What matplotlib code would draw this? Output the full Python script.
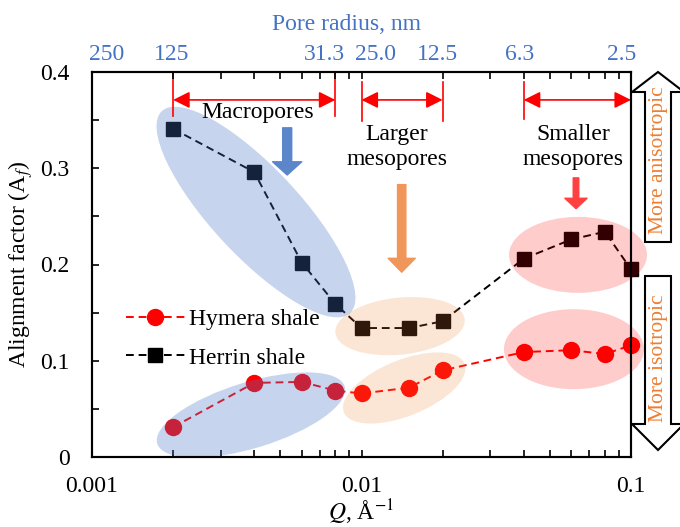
import matplotlib
matplotlib.use('Agg')
import matplotlib.pyplot as plt
import matplotlib.transforms as mtransforms
from matplotlib.patches import Ellipse, Polygon
from matplotlib.ticker import LogLocator, NullFormatter, MultipleLocator

plt.rcParams['font.family'] = ['Liberation Serif', 'DejaVu Serif']
plt.rcParams['mathtext.fontset'] = 'stix'

# data
q = [0.002, 0.004, 0.006, 0.008, 0.01, 0.015, 0.02, 0.04, 0.06, 0.08, 0.1]
herrin = [0.341, 0.296, 0.202, 0.159, 0.134, 0.134, 0.141, 0.206, 0.226, 0.234, 0.195]
hymera = [0.031, 0.077, 0.078, 0.069, 0.066, 0.072, 0.090, 0.109, 0.111, 0.107, 0.116]

yticks = [0, 0.1, 0.2, 0.3, 0.4]
ytick_labels = ['0', '0.1', '0.2', '0.3', '0.4']

# top axis: pore radius (nm) = 2.5 / Q
top_q = [0.001, 0.002, 0.008, 0.01, 0.02, 0.04, 0.1]
top_labels = ['250', '125', '31.3', '25.0', '12.5', '6.3', '2.5']
top_label_shift = [15, -2, -11, 14, -5, -4, -9]   # px, as placed in the original

# pore-size range brackets (Q start, Q end)
ranges = [(0.002, 0.008), (0.01, 0.02), (0.04, 0.1)]
range_names = ['Macropores', 'Larger\nmesopores', 'Smaller\nmesopores']

blue = '#4472C4'
orange = '#ED7D31'
fs = 17

fig = plt.figure(figsize=(6.8, 5.27), dpi=100)
ax = fig.add_axes([92/680, 70/527, 539/680, 385/527])

ax.plot(q, hymera, '--', color='red', lw=1.4, dashes=(4, 2.5), marker='o',
        ms=11.5, mec='red', mfc='red', label='Hymera shale', clip_on=False, zorder=3)
ax.plot(q, herrin, '--', color='black', lw=1.4, dashes=(4, 2.5), marker='s',
        ms=10, mec='black', mfc='black', label='Herrin shale', clip_on=False, zorder=3)

ax.set_xscale('log')
ax.set_xlim(0.001, 0.1)
ax.set_ylim(0, 0.4)
ax.set_xticks([0.001, 0.01, 0.1])
ax.set_xticklabels(['0.001', '0.01', '0.1'])
ax.xaxis.set_minor_locator(LogLocator(base=10, subs=range(2, 10)))
ax.xaxis.set_minor_formatter(NullFormatter())
ax.set_yticks(yticks)
ax.set_yticklabels(ytick_labels)
ax.yaxis.set_minor_locator(MultipleLocator(0.05))
ax.tick_params(which='both', direction='in', length=5, width=1.2, labelsize=fs,
               top=False, right=False)
ax.tick_params(axis='x', pad=14)
ax.tick_params(axis='y', pad=16)
for s in ax.spines.values():
    s.set_linewidth(1.5)

ax.set_xlabel(r'$Q$, Å$^{-1}$', fontsize=fs, labelpad=0)
ax.set_ylabel(r'Alignment factor (A$_f$)', fontsize=fs, labelpad=4)

ax2 = ax.twiny()
ax2.set_xscale('log')
ax2.set_xlim(ax.get_xlim())
ax2.set_xticks(top_q)
ax2.set_xticklabels(top_labels, color=blue)
ax2.xaxis.set_minor_locator(LogLocator(base=10, subs=range(2, 10)))
ax2.xaxis.set_minor_formatter(NullFormatter())
ax2.tick_params(which='both', direction='in', length=5, width=1.2, labelsize=fs, pad=5)
ax2.set_xlabel('Pore radius, nm', fontsize=fs, color=blue, labelpad=10)
for s in ax2.spines.values():
    s.set_linewidth(1.5)
for lbl, dx in zip(ax2.get_xticklabels(), top_label_shift):
    lbl.set_transform(lbl.get_transform() +
                      mtransforms.ScaledTranslation(dx / 100, 0, fig.dpi_scale_trans))
ax2.xaxis.label.set_transform(ax2.xaxis.label.get_transform() +
                              mtransforms.ScaledTranslation(-0.15, 0, fig.dpi_scale_trans))

# shaded ellipses: centre in data coords, size in pixels
ellipses = [
    (0.00406, 0.2545, 88, 276, 43, blue, 0.3),
    (0.00389, 0.0436, 196, 66, 17, blue, 0.3),
    (0.0139, 0.136, 130, 57, 6, orange, 0.2),
    (0.0144, 0.0717, 130, 56, 22, orange, 0.2),
    (0.0636, 0.210, 138, 76, 0, 'red', 0.2),
    (0.0614, 0.112, 140, 80, 0, 'red', 0.2),
]
for cx, cy, w, h, ang, col, a in ellipses:
    tr = fig.dpi_scale_trans + mtransforms.ScaledTranslation(cx, cy, ax.transData)
    ax.add_patch(Ellipse((0, 0), w / 100, h / 100, angle=ang, transform=tr,
                         facecolor=col, edgecolor='none', alpha=a, zorder=4, clip_on=False))

# red brackets
bracket_y = 0.371
for (q0, q1), (ytop, ybot) in zip(ranges, [(0.4, 0.354), (0.39, 0.349), (0.39, 0.351)]):
    for qq in (q0, q1):
        ax.plot([qq, qq], [ytop, ybot], color='red', lw=1.2, clip_on=False, zorder=5)
    ax.annotate('', xy=(q1, bracket_y), xytext=(q0, bracket_y),
                arrowprops=dict(arrowstyle='<|-|>,head_length=1.0,head_width=0.5',
                                color='red', lw=1.2, shrinkA=0, shrinkB=0,
                                mutation_scale=10), zorder=5)

ax.text(0.00413, 0.358, range_names[0], fontsize=fs, ha='center', va='center', zorder=6)
ax.text(0.01354, 0.322, range_names[1], fontsize=fs, ha='center', va='center',
        linespacing=1.3, zorder=6)
ax.text(0.061, 0.322, range_names[2], fontsize=fs, ha='center', va='center',
        linespacing=1.3, zorder=6)

# coloured down arrows
down_arrows = [
    (0.0053, 0.342, 0.293, '#5B86C9', 0.65, 2.1, 0.95),
    (0.0141, 0.283, 0.192, '#F0965A', 0.6, 1.95, 1.0),
    (0.0625, 0.290, 0.258, '#FF4040', 0.4, 1.6, 0.75),
]
for qq, y0, y1, col, tw, hw, hl in down_arrows:
    ax.annotate('', xy=(qq, y1), xytext=(qq, y0),
                arrowprops=dict(arrowstyle=f'simple,tail_width={tw},head_width={hw},head_length={hl}',
                                color=col, shrinkA=0, shrinkB=0, mutation_scale=10), zorder=6)

leg = ax.legend(loc='upper left', bbox_to_anchor=(0.045, 0.41), frameon=False,
                fontsize=fs, handlelength=2.5, handletextpad=0.2, labelspacing=0.72,
                borderaxespad=0)
leg.set_zorder(7)


# block arrows at the right edge (figure pixels)
def fp(pts):
    return [(x / 680, 1 - y / 527) for x, y in pts]


up = [(658, 72), (684, 92), (671, 92), (671, 242), (645, 242), (645, 92), (632, 92)]
down = [(658, 450), (684, 424), (671, 424), (671, 276), (645, 276), (645, 424), (632, 424)]
for pts in (up, down):
    fig.add_artist(Polygon(fp(pts), closed=True, transform=fig.transFigure,
                           facecolor='white', edgecolor='black', lw=1.5, zorder=8))
fig.text(658 / 680, 1 - 160 / 527, 'More anisotropic', rotation=90, color=orange,
         fontsize=15.5, ha='center', va='center', zorder=9)
fig.text(658 / 680, 1 - 358 / 527, 'More isotropic', rotation=90, color=orange,
         fontsize=15.5, ha='center', va='center', zorder=9)

fig.savefig('out.png', dpi=100)
